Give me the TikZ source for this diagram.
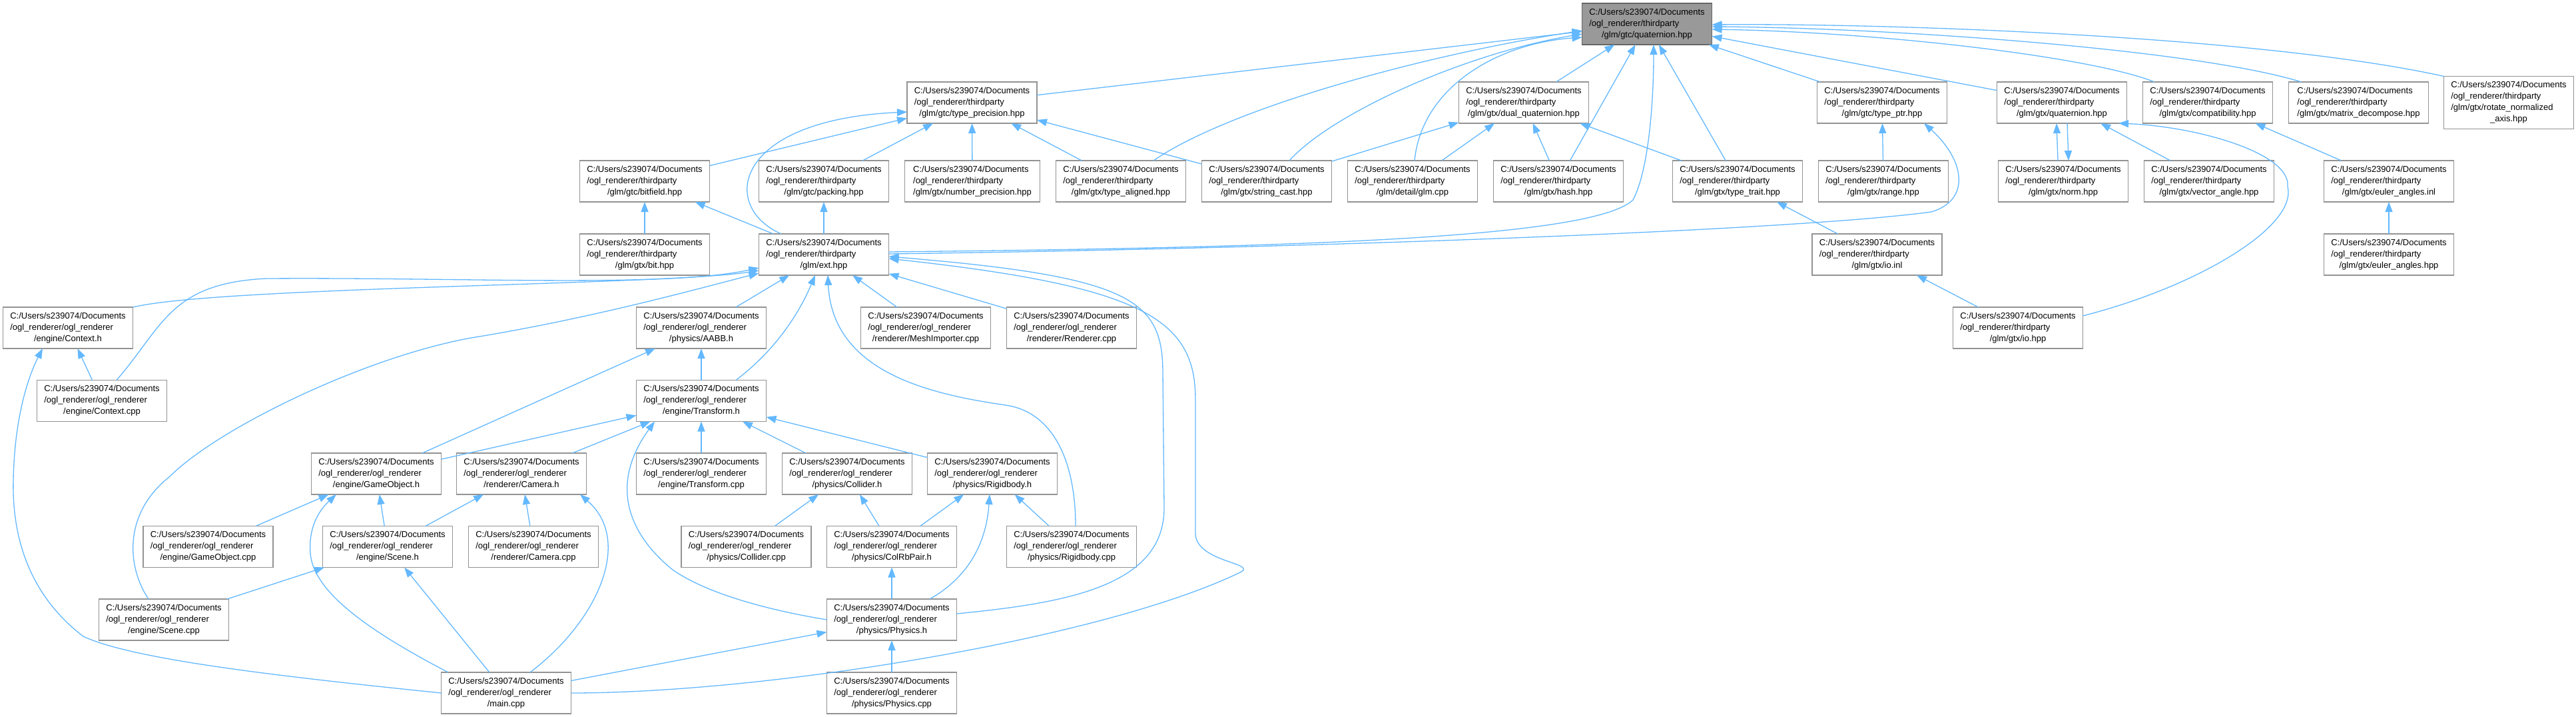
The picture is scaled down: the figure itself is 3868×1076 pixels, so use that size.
\documentclass[tikz,border=0pt]{standalone}
\usepackage{fontspec}
\setmainfont{Liberation Sans}
\usepackage{tikz}
\usetikzlibrary{arrows.meta, positioning}
\definecolor{edgeblue}{HTML}{63B8FF}
\definecolor{boxline}{HTML}{939393}
\definecolor{rootfill}{HTML}{999999}
\definecolor{rootline}{HTML}{666666}
\newcommand{\glmfile}[1]{\begin{tabular}{@{}l@{}}C:/Users/s239074/Documents\\/ogl\_renderer/thirdparty\\\multicolumn{1}{@{}c@{}}{/glm/#1}\end{tabular}}
\newcommand{\appfile}[1]{\begin{tabular}{@{}l@{}}C:/Users/s239074/Documents\\/ogl\_renderer/ogl\_renderer\\\multicolumn{1}{@{}c@{}}{/#1}\end{tabular}}

\begin{document}
\begin{tikzpicture}[
    x=1pt, y=-1pt,
    filenode/.style={draw=boxline, fill=white, line width=1.6pt, minimum width=195pt, minimum height=62pt,
                     inner sep=2pt, outer sep=0pt, font=\fontsize{13}{17}\selectfont},
    rootnode/.style={filenode, draw=rootline, fill=rootfill},
    incl/.style={-{Triangle[length=15pt,width=11pt]}, line width=1.3pt, edgeblue}
]
    \useasboundingbox (0,0) rectangle (3868,1076);

    \node[rootnode] (root) at (2473,36) {\glmfile{gtc/quaternion.hpp}};

    \node[filenode] (typeprec) at (1459.5,154) {\glmfile{gtc/type\_precision.hpp}};
    \node[filenode] (dualq) at (2288,154) {\glmfile{gtx/dual\_quaternion.hpp}};
    \node[filenode] (typeptr) at (2826,154) {\glmfile{gtc/type\_ptr.hpp}};
    \node[filenode, right=75pt of typeptr] (gtxquat) {\glmfile{gtx/quaternion.hpp}};
    \node[filenode, right=24pt of gtxquat] (compat) {\glmfile{gtx/compatibility.hpp}};
    \node[filenode, minimum width=210pt, right=24pt of compat] (matdec) {\glmfile{gtx/matrix\_decompose.hpp}};
    \node[filenode, minimum height=79pt, right=23pt of matdec] (rotnorm) {\begin{tabular}{@{}l@{}}C:/Users/s239074/Documents\\/ogl\_renderer/thirdparty\\/glm/gtx/rotate\_normalized\\\multicolumn{1}{@{}c@{}}{\_axis.hpp}\end{tabular}};

    \node[filenode] (bitfield) at (968,272) {\glmfile{gtc/bitfield.hpp}};
    \node[filenode, right=74pt of bitfield] (packing) {\glmfile{gtc/packing.hpp}};
    \node[filenode, minimum width=203pt, right=24pt of packing] (numprec) {\glmfile{gtx/number\_precision.hpp}};
    \node[filenode, right=24pt of numprec] (typealigned) {\glmfile{gtx/type\_aligned.hpp}};
    \node[filenode, right=24pt of typealigned] (stringcast) {\glmfile{gtx/string\_cast.hpp}};
    \node[filenode, right=24pt of stringcast] (glmcpp) {\glmfile{detail/glm.cpp}};
    \node[filenode, right=24pt of glmcpp] (hash) {\glmfile{gtx/hash.hpp}};
    \node[filenode, right=74pt of hash] (typetrait) {\glmfile{gtx/type\_trait.hpp}};
    \node[filenode, right=24pt of typetrait] (range) {\glmfile{gtx/range.hpp}};
    \node[filenode, right=75pt of range] (norm) {\glmfile{gtx/norm.hpp}};
    \node[filenode, right=24pt of norm] (vecangle) {\glmfile{gtx/vector\_angle.hpp}};
    \node[filenode, right=75pt of vecangle] (eulerinl) {\glmfile{gtx/euler\_angles.inl}};

    \node[filenode] (bit) at (968,382) {\glmfile{gtx/bit.hpp}};
    \node[filenode, right=74pt of bit] (ext) {\glmfile{ext.hpp}};
    \node[filenode] (ioinl) at (2818.5,382) {\glmfile{gtx/io.inl}};
    \node[filenode] (eulerhpp) at (3587,382) {\glmfile{gtx/euler\_angles.hpp}};

    \node[filenode] (contexth) at (102,492) {\appfile{engine/Context.h}};
    \node[filenode] (aabb) at (1053,492) {\appfile{physics/AABB.h}};
    \node[filenode] (meshimp) at (1390,492) {\appfile{renderer/MeshImporter.cpp}};
    \node[filenode, right=24pt of meshimp] (renderer) {\appfile{renderer/Renderer.cpp}};
    \node[filenode] (iohpp) at (3030,492) {\glmfile{gtx/io.hpp}};

    \node[filenode] (contextcpp) at (153,601.5) {\appfile{engine/Context.cpp}};
    \node[filenode] (transformh) at (1053,601.5) {\appfile{engine/Transform.h}};

    \node[filenode] (gameobjh) at (565,711) {\appfile{engine/GameObject.h}};
    \node[filenode, right=23pt of gameobjh] (camerah) {\appfile{renderer/Camera.h}};
    \node[filenode, right=75pt of camerah] (transformcpp) {\appfile{engine/Transform.cpp}};
    \node[filenode, right=24pt of transformcpp] (colliderh) {\appfile{physics/Collider.h}};
    \node[filenode, right=23pt of colliderh] (rigidbodyh) {\appfile{physics/Rigidbody.h}};

    \node[filenode] (gameobjcpp) at (312.5,820.5) {\appfile{engine/GameObject.cpp}};
    \node[filenode, right=74.5pt of gameobjcpp] (sceneh) {\appfile{engine/Scene.h}};
    \node[filenode, right=24pt of sceneh] (cameracpp) {\appfile{renderer/Camera.cpp}};
    \node[filenode] (collidercpp) at (1120.5,820.5) {\appfile{physics/Collider.cpp}};
    \node[filenode, right=23.5pt of collidercpp] (colrbpair) {\appfile{physics/ColRbPair.h}};
    \node[filenode, right=75pt of colrbpair] (rigidbodycpp) {\appfile{physics/Rigidbody.cpp}};

    \node[filenode] (scenecpp) at (246,930) {\appfile{engine/Scene.cpp}};
    \node[filenode] (physicsh) at (1339,930) {\appfile{physics/Physics.h}};

    \node[filenode] (maincpp) at (760,1040) {\appfile{main.cpp}};
    \node[filenode] (physicscpp) at (1339,1040) {\appfile{physics/Physics.cpp}};

    \draw[incl] (typeprec) -- (root);
    \draw[incl] (dualq) -- (root);
    \draw[incl] (typeptr) -- (root);
    \draw[incl] (gtxquat) -- (root);
    \draw[incl] ([xshift=-80pt]compat.north) .. controls (3140,85) and (2820,48) .. ([yshift=-8pt]root.east);
    \draw[incl] ([xshift=-86pt]matdec.north) .. controls (3300,75) and (2850,42) .. ([yshift=-4pt]root.east);
    \draw[incl] (rotnorm.north west) .. controls (3400,55) and (2850,35) .. ([yshift=-1pt]root.east);
    \draw[incl] ([xshift=49pt]typealigned.north) .. controls (1850,160) and (2150,80) .. ([yshift=-10pt]root.west);
    \draw[incl] ([xshift=34pt]stringcast.north) .. controls (2000,170) and (2200,80) .. ([yshift=-15pt]root.west);
    \draw[incl] ([xshift=3pt]glmcpp.north) .. controls (2135,130) and (2250,65) .. ([yshift=-20pt]root.west);
    \draw[incl] (hash) -- (root);
    \draw[incl] (typetrait) -- (root);
    \draw[incl] ([yshift=4pt]ext.east) .. controls (1900,372) and (2390,360) .. (2452,300) .. controls (2476,255) and (2483,150) .. ([xshift=10pt]root.south);

    \draw[incl] (bitfield) -- (typeprec);
    \draw[incl] ([xshift=-64pt]ext.north) .. controls (1080,310) and (1100,180) .. ([yshift=-14pt]typeprec.west);
    \draw[incl] (packing) -- (typeprec);
    \draw[incl] (numprec) -- (typeprec);
    \draw[incl] (typealigned) -- (typeprec);
    \draw[incl] (stringcast) -- (typeprec);

    \draw[incl] (stringcast) -- (dualq);
    \draw[incl] (glmcpp) -- (dualq);
    \draw[incl] (hash) -- (dualq);
    \draw[incl] (typetrait) -- (dualq);

    \draw[incl] (range) -- (typeptr);
    \draw[incl] ([yshift=1pt]ext.east) .. controls (2000,372) and (2700,345) .. (2900,318) .. controls (2960,300) and (2950,240) .. ([xshift=63pt]typeptr.south);

    \draw[incl] ([xshift=-8pt]norm.north) -- ([xshift=-8pt]gtxquat.south);
    \draw[incl] ([xshift=8pt]gtxquat.south) -- ([xshift=8pt]norm.north);
    \draw[incl] (vecangle) -- (gtxquat);
    \draw[incl] ([yshift=18pt]iohpp.east) .. controls (3300,430) and (3450,340) .. (3435,280) .. controls (3440,230) and (3300,190) .. ([xshift=85pt]gtxquat.south);

    \draw[incl] (eulerinl) -- (compat);
    \draw[incl] (eulerhpp) -- (eulerinl);
    \draw[incl] (bit) -- (bitfield);
    \draw[incl] (ext) -- (bitfield);
    \draw[incl] (ext) -- (packing);
    \draw[incl] (ioinl) -- (typetrait);
    \draw[incl] (iohpp) -- (ioinl);

    \draw[incl] (contexth.north east) .. controls (330,430) and (1000,428) .. ([yshift=-24pt]ext.west);
    \draw[incl] ([xshift=22pt]contextcpp.north) .. controls (245,490) and (255,425) .. (400,418) .. controls (700,416) and (1000,432) .. ([yshift=-20pt]ext.west);
    \draw[incl] ([xshift=-23pt]scenecpp.north) .. controls (190,850) and (185,770) .. (255,715) .. controls (330,640) and (560,530) .. (720,505) .. controls (900,475) and (1060,430) .. ([yshift=-28pt]ext.west);
    \draw[incl] (aabb) -- (ext);
    \draw[incl] ([xshift=52pt]transformh.north) .. controls (1165,525) and (1200,470) .. ([xshift=-13pt]ext.south);
    \draw[incl] (meshimp) -- (ext);
    \draw[incl] (renderer) -- (ext);
    \draw[incl] ([xshift=6pt]rigidbodycpp.north) .. controls (1615,690) and (1580,618) .. (1510,608) .. controls (1400,592) and (1250,560) .. ([xshift=6pt]ext.south);
    \draw[incl] ([yshift=9pt]physicsh.east) .. controls (1600,905) and (1750,880) .. (1748,760) -- (1746,560) .. controls (1746,450) and (1700,415) .. ([yshift=-3pt]ext.east);
    \draw[incl] (maincpp.east) .. controls (1150,1040) and (1650,960) .. (1860,860) .. controls (1895,845) and (1795,845) .. (1795,800) -- (1795,600) .. controls (1795,480) and (1720,430) .. ([yshift=-6pt]ext.east);

    \draw[incl] (contextcpp) -- (contexth);
    \draw[incl] (maincpp.west) .. controls (420,1015) and (200,990) .. (125,955) .. controls (40,890) and (18,800) .. (20,720) .. controls (22,620) and (45,560) .. ([xshift=-38pt]contexth.south);

    \draw[incl] (transformh) -- (aabb);
    \draw[incl] (gameobjh) -- (aabb);
    \draw[incl] (gameobjh) -- (transformh);
    \draw[incl] (camerah) -- (transformh);
    \draw[incl] (transformcpp) -- (transformh);
    \draw[incl] (colliderh) -- (transformh);
    \draw[incl] (rigidbodyh) -- (transformh);
    \draw[incl] (physicsh.west) .. controls (1150,915) and (1060,890) .. (1010,855) .. controls (960,815) and (905,740) .. ([xshift=-70pt]transformh.south);

    \draw[incl] (gameobjcpp) -- (gameobjh);
    \draw[incl] (sceneh) -- (gameobjh);
    \draw[incl] ([xshift=-87pt]maincpp.north) .. controls (560,950) and (470,890) .. (466,830) .. controls (463,790) and (480,765) .. ([xshift=-60pt]gameobjh.south);
    \draw[incl] (sceneh) -- (camerah);
    \draw[incl] (cameracpp) -- (camerah);
    \draw[incl] ([xshift=36pt]maincpp.north) .. controls (900,930) and (950,810) .. ([xshift=88pt]camerah.south);
    \draw[incl] (scenecpp) -- (sceneh);
    \draw[incl] (maincpp) -- (sceneh);

    \draw[incl] (collidercpp) -- (colliderh);
    \draw[incl] (colrbpair) -- (colliderh);
    \draw[incl] (colrbpair) -- (rigidbodyh);
    \draw[incl] ([xshift=57pt]physicsh.north) .. controls (1465,860) and (1482,800) .. ([xshift=-4pt]rigidbodyh.south);
    \draw[incl] (rigidbodycpp) -- (rigidbodyh);
    \draw[incl] (physicsh) -- (colrbpair);
    \draw[incl] (physicscpp) -- (physicsh);
    \draw[incl] (maincpp) -- (physicsh);
\end{tikzpicture}
\end{document}
